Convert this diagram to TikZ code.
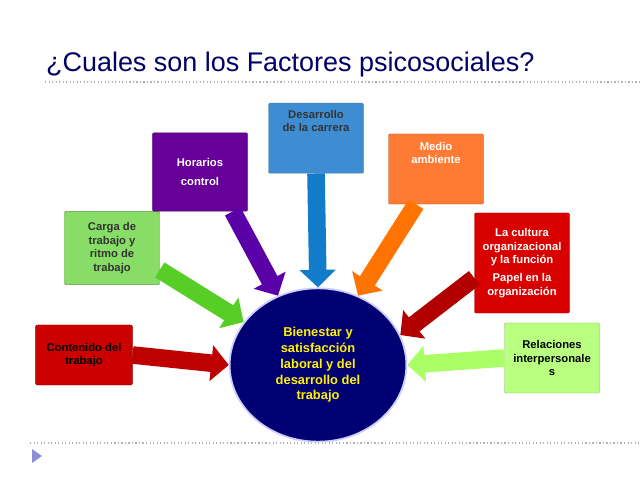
\documentclass[tikz,border=0pt]{standalone}
\usepackage{fontspec}
\setmainfont{Liberation Sans}
\usetikzlibrary{arrows.meta,shapes.geometric}
\colorlet{cA}{red!80!black}
\colorlet{cB}{green!55!olive!60!white}
\colorlet{cC}{violet!80!blue}
\colorlet{cD}{cyan!60!blue!80!white}
\colorlet{cE}{orange!70!red!80!white}
\colorlet{cF}{red!85!black}
\colorlet{cG}{green!40!lime!50!white}
\begin{document}
\begin{tikzpicture}[x=0.03cm,y=-0.03cm,
 box/.style={draw=#1!70!black,fill=#1,minimum width=2.85cm,align=center,font=\bfseries\fontsize{9.6}{11.5}\selectfont,text=white,rounded corners=1pt},
 arr/.style={draw=#1,line width=15pt,-{Triangle[width=30pt,length=15pt]}},
 sep/.style={draw=gray!60,dotted,line width=1pt}]
\useasboundingbox (0,0) rectangle (640,480);
\node[anchor=west,text=blue!40!black,font=\fontsize{23}{26}\selectfont] (title) at (42,65) {¿Cuales son los Factores psicosociales?};
\draw[sep] (45,82) -- (640,82);
\draw[sep] (30,443) -- (640,443);
\fill[gray!50!blue!60] (32,449) -- (42,456) -- (32,463) -- cycle;
\node[ellipse,draw=blue!20,line width=1.5pt,fill=blue!45!black,minimum width=5.3cm,minimum height=4.6cm,align=center,text=yellow,font=\bfseries\fontsize{11}{13.5}\selectfont] (c) at (318,365) {Bienestar y\\satisfacción\\laboral y del\\desarrollo del\\trabajo};
\node[box=cA,text=black,minimum height=1.8cm,minimum width=2.9cm] (b1) at (84,355) {Contenido del\\trabajo};
\node[box=cB,text=black!80,minimum height=2.2cm] (b2) at (112,248) {Carga de\\trabajo y\\ritmo de\\trabajo};
\node[box=cC,minimum height=2.35cm] (b3) at (200,172) {Horarios\\[4pt]control};
\node[box=cD,text=black!80,minimum height=2.1cm,anchor=north] (b4) at (316,103) {Desarrollo\\de la carrera\\[18pt]};
\node[box=cE,minimum height=2.1cm] (b5) at (436,169) {Medio\\ambiente\\[16pt]};
\node[box=cF,minimum height=3cm] (b6) at (522,263) {La cultura\\organizacional\\y la función\\[4pt]Papel en la\\organización};
\node[box=cG,text=black,minimum height=2.1cm] (b7) at (552,358) {Relaciones\\interpersonale\\s};
\draw[arr=red!75!black] (b1.east) -- (c.west);
\draw[arr=green!55!olive!85!white] (b2.south east) ++(0,-15) -- (c.150);
\draw[arr=violet!70!blue] (b3.south east) ++(-15,0) -- (c.120);
\draw[arr=cyan!60!blue] (b4.south) -- (c.north);
\draw[arr=orange!90!red] (b5.south) ++(-20,0) -- (c.60);
\draw[arr=red!70!black] (b6.west) ++(0,15) -- (c.20);
\draw[arr=green!40!lime!60] (b7.west) -- (c.east);
\end{tikzpicture}
\end{document}
